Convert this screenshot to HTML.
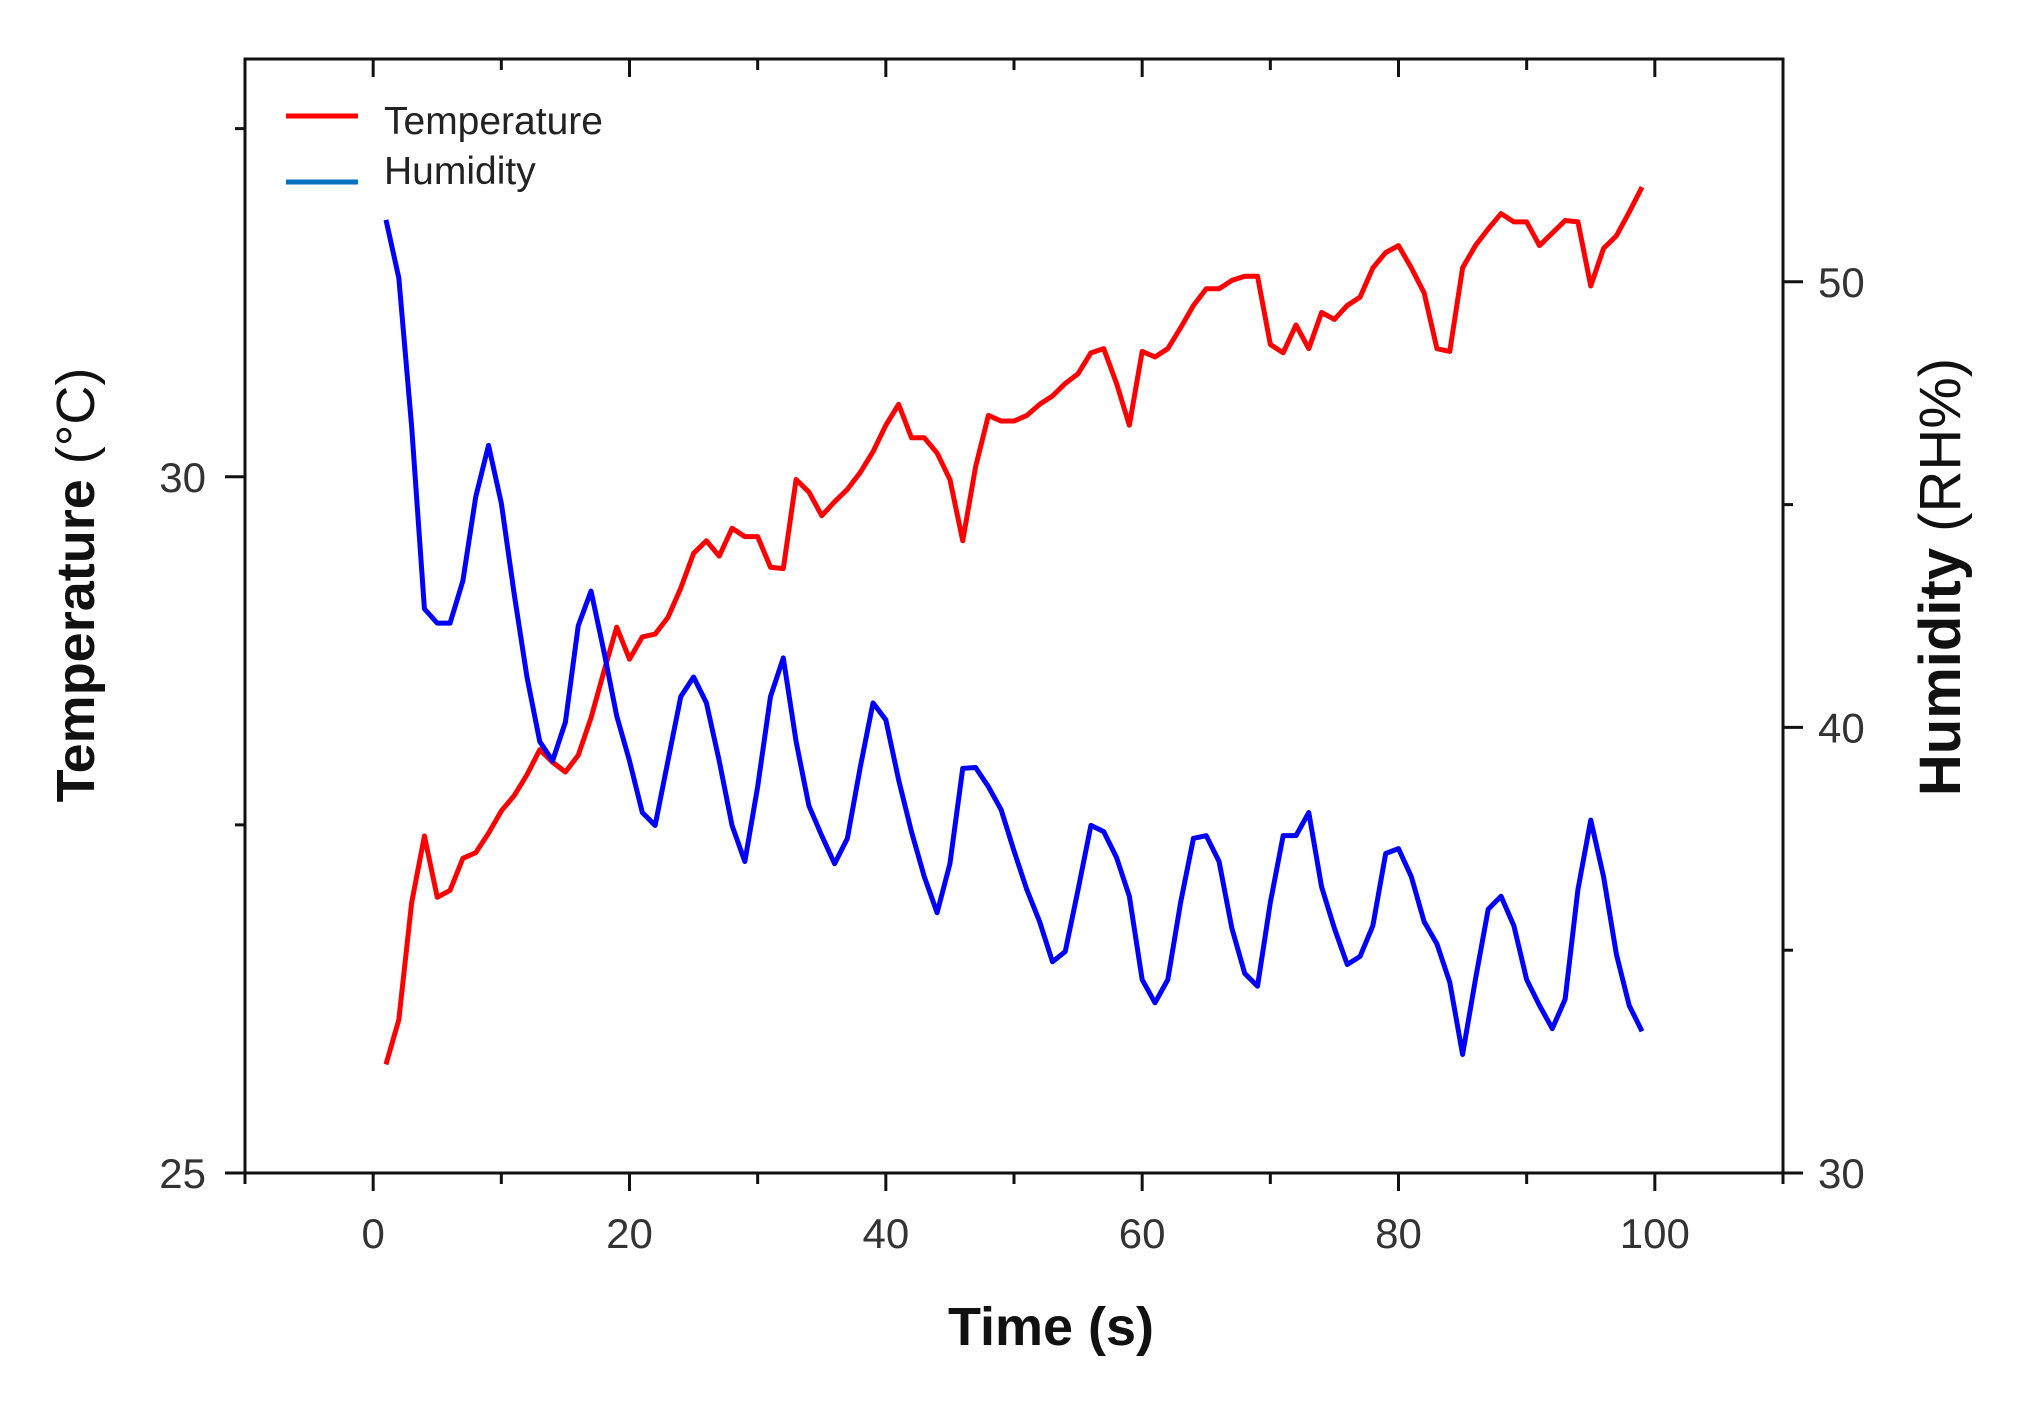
<!DOCTYPE html>
<html><head><meta charset="utf-8"><style>
html,body{margin:0;padding:0;background:#fff;}
svg{display:block;font-family:"Liberation Sans",Arial,sans-serif;}
</style></head><body>
<svg id="chart" width="2022" height="1407" viewBox="0 0 2022 1407">
<g id="axes"></g>
<g id="series"></g>
<g>
  <line x1="286" y1="116" x2="358" y2="116" stroke="#ff0000" stroke-width="5"/>
  <text x="384" y="134" font-size="39" fill="#222">Temperature</text>
  <line x1="286" y1="182" x2="358" y2="182" stroke="#0070c0" stroke-width="5"/>
  <text x="384" y="184" font-size="39" fill="#222">Humidity</text>
</g>
<text x="1051" y="1345" text-anchor="middle" font-size="54" font-weight="bold" fill="#111">Time (s)</text>
<text transform="translate(94,585) rotate(-90)" text-anchor="middle" font-size="54" fill="#111"><tspan font-weight="bold">Temperature</tspan>  (°C)</text>
<text transform="translate(1960,577) rotate(-90)" text-anchor="middle" font-size="58" fill="#111"><tspan font-weight="bold">Humidity</tspan>  (RH%)</text>
</svg>
<script>
const times = [1,2,3,4,5,6,7,8,9,10,11,12,13,14,15,16,17,18,19,20,21,22,23,24,25,26,27,28,29,30,31,32,33,34,35,36,37,38,39,40,41,42,43,44,45,46,47,48,49,50,51,52,53,54,55,56,57,58,59,60,61,62,63,64,65,66,67,68,69,70,71,72,73,74,75,76,77,78,79,80,81,82,83,84,85,86,87,88,89,90,91,92,93,94,95,96,97,98,99];
const temperature = [25.78,26.1,26.94,27.42,26.98,27.03,27.26,27.3,27.44,27.6,27.71,27.86,28.04,27.95,27.88,28.0,28.27,28.6,28.92,28.69,28.85,28.87,28.99,29.2,29.45,29.54,29.43,29.63,29.57,29.57,29.35,29.34,29.98,29.89,29.72,29.82,29.91,30.03,30.18,30.37,30.52,30.28,30.28,30.17,29.98,29.54,30.07,30.44,30.4,30.4,30.44,30.52,30.58,30.67,30.74,30.89,30.92,30.67,30.37,30.9,30.86,30.92,31.07,31.23,31.35,31.35,31.41,31.44,31.44,30.95,30.89,31.09,30.92,31.18,31.13,31.23,31.29,31.5,31.61,31.66,31.5,31.32,30.92,30.9,31.5,31.66,31.78,31.89,31.83,31.83,31.66,31.75,31.84,31.83,31.37,31.64,31.73,31.9,32.08];
const humidity = [51.39,50.09,46.76,42.66,42.34,42.34,43.29,45.17,46.33,45.03,43.0,41.13,39.68,39.25,40.12,42.28,43.06,41.71,40.26,39.25,38.09,37.8,39.25,40.69,41.13,40.55,39.25,37.8,36.99,38.67,40.69,41.56,39.68,38.24,37.57,36.94,37.51,39.1,40.55,40.17,38.82,37.66,36.65,35.84,36.94,39.08,39.1,38.67,38.15,37.23,36.36,35.64,34.74,34.97,36.36,37.8,37.66,37.08,36.21,34.34,33.82,34.34,36.07,37.51,37.57,36.99,35.49,34.48,34.19,36.07,37.57,37.57,38.09,36.42,35.49,34.68,34.86,35.55,37.17,37.28,36.65,35.64,35.14,34.28,32.66,34.34,35.92,36.21,35.55,34.34,33.76,33.24,33.9,36.36,37.92,36.65,34.91,33.76,33.18];
const xTicks = [0,20,40,60,80,100];
const xMinorTicks = [-10,10,30,50,70,90,110];
const tempTicks = [25,30];
const tempMinorTicks = [27.5,32.5];
const humTicks = [30,40,50];
const humMinorTicks = [35,45];

const L=245,R=1783,T=59,B=1173;
const xs = t => L + (t - (-10)) / 120 * (R - L);
const yT = v => B - (v - 25) / (33 - 25) * (B - T);
const yH = v => B - (v - 30) / (55 - 30) * (B - T);
const NS='http://www.w3.org/2000/svg';
const axes=document.getElementById('axes'), series=document.getElementById('series');
function mk(tag, attrs, parent){const e=document.createElementNS(NS,tag);for(const k in attrs)e.setAttribute(k,attrs[k]);parent.appendChild(e);return e;}

let fr=mk('rect',{x:L,y:T,width:R-L,height:B-T,fill:'none',stroke:'#111','stroke-width':3},axes);



xTicks.forEach(t=>{
  let a=mk('line',{x1:xs(t),x2:xs(t),y1:B,y2:B+18,stroke:'#111','stroke-width':3},axes);
  
  
  let b=mk('line',{x1:xs(t),x2:xs(t),y1:T,y2:T+18,stroke:'#111','stroke-width':3},axes);
  
  
  let l=mk('text',{x:xs(t),y:1248,'text-anchor':'middle','font-size':42,fill:'#333'},axes);
  l.textContent=t;
  
  
});
xMinorTicks.forEach(t=>{
  let a=mk('line',{x1:xs(t),x2:xs(t),y1:B,y2:B+11,stroke:'#111','stroke-width':3},axes);
  
  
  let b=mk('line',{x1:xs(t),x2:xs(t),y1:T,y2:T+11,stroke:'#111','stroke-width':3},axes);
  
  
});
tempTicks.forEach(v=>{
  let a=mk('line',{x1:L-20,x2:L,y1:yT(v),y2:yT(v),stroke:'#111','stroke-width':3},axes);
  
  
  let l=mk('text',{x:206,y:yT(v)+15,'text-anchor':'end','font-size':42,fill:'#333'},axes);
  l.textContent=v;
  
  
});
tempMinorTicks.forEach(v=>{
  let a=mk('line',{x1:L-10,x2:L,y1:yT(v),y2:yT(v),stroke:'#111','stroke-width':3},axes);
  
  
});
humTicks.forEach(v=>{
  let a=mk('line',{x1:R,x2:R+20,y1:yH(v),y2:yH(v),stroke:'#111','stroke-width':3},axes);
  
  
  let l=mk('text',{x:1818,y:yH(v)+15,'text-anchor':'start','font-size':42,fill:'#333'},axes);
  l.textContent=v;
  
  
});
humMinorTicks.forEach(v=>{
  let a=mk('line',{x1:R,x2:R+10,y1:yH(v),y2:yH(v),stroke:'#111','stroke-width':3},axes);
  
  
});

let tp=mk('polyline',{points:times.map((t,i)=>xs(t)+','+yT(temperature[i])).join(' '),fill:'none',stroke:'#ff0000','stroke-width':5,'stroke-linejoin':'round'},series);


let hp=mk('polyline',{points:times.map((t,i)=>xs(t)+','+yH(humidity[i])).join(' '),fill:'none',stroke:'#0000ff','stroke-width':5,'stroke-linejoin':'round'},series);


</script>
</body></html>
